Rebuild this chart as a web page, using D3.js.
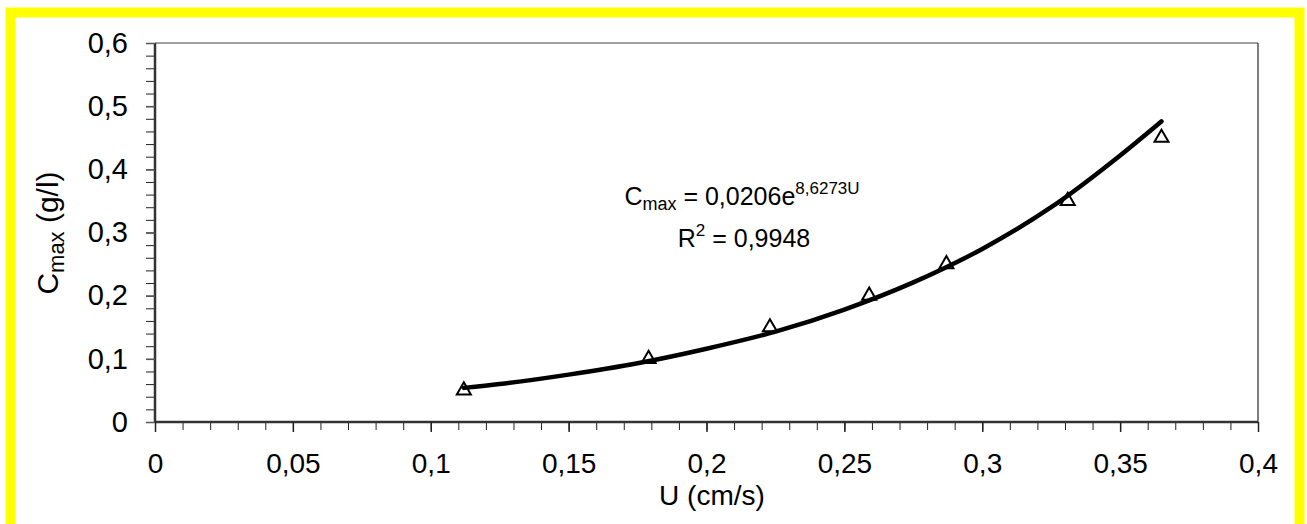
<!DOCTYPE html>
<html>
<head>
<meta charset="utf-8">
<script src="https://cdn.jsdelivr.net/npm/d3@7"></script>
<style>
  html, body { margin: 0; padding: 0; background: #fff; }
  svg { display: block; font-family: "Liberation Sans", Arial, sans-serif; }
</style>
</head>
<body>
<svg id="chart" width="1307" height="524"></svg>
<script>
// ---- data ----
const pointsU = [0.112, 0.179, 0.223, 0.259, 0.287, 0.331, 0.365];
const pointsC = [0.05, 0.10, 0.15, 0.20, 0.25, 0.35, 0.45];

// trend line values
const trendU = [0.112, 0.125, 0.15, 0.175, 0.2, 0.225, 0.25, 0.275, 0.3, 0.325, 0.35, 0.365];
const trendC = [0.054, 0.060, 0.075, 0.093, 0.116, 0.143, 0.178, 0.221, 0.274, 0.340, 0.422, 0.476];

const yTickValues = [0, 0.1, 0.2, 0.3, 0.4, 0.5, 0.6];
const yTickLabels = ["0", "0,1", "0,2", "0,3", "0,4", "0,5", "0,6"];
const xTickValues = [0, 0.05, 0.1, 0.15, 0.2, 0.25, 0.3, 0.35, 0.4];
const xTickLabels = ["0", "0,05", "0,1", "0,15", "0,2", "0,25", "0,3", "0,35", "0,4"];

const svg = d3.select("#chart");

// yellow frame
svg.append("rect")
  .attr("x", 10.5).attr("y", 12.5)
  .attr("width", 1289).attr("height", 540)
  .attr("fill", "#fff")
  .attr("stroke", "#ffff00").attr("stroke-width", 10);

const L = 155, R = 1258, T = 43, B = 422;
const x = d3.scaleLinear().domain([0, 0.4]).range([L, R]);
const y = d3.scaleLinear().domain([0, 0.6]).range([B, T]);

// plot frame: top (gray) and right (black)
svg.append("line").attr("x1", L).attr("x2", R).attr("y1", T).attr("y2", T)
  .attr("stroke", "#808080").attr("stroke-width", 1.5);
svg.append("line").attr("x1", R).attr("x2", R).attr("y1", T).attr("y2", B)
  .attr("stroke", "#000").attr("stroke-width", 1);

// minor ticks
const yMinor = d3.range(0, 0.6001, 0.02);
svg.append("g").attr("transform", `translate(${L},0)`)
  .call(d3.axisLeft(y).tickValues(yMinor).tickSize(9).tickFormat(""))
  .call(g => g.select(".domain").remove())
  .selectAll("line").attr("stroke", "#222");
const xMinor = d3.range(0, 0.4001, 0.01);
svg.append("g").attr("transform", `translate(0,${B})`)
  .call(d3.axisBottom(x).tickValues(xMinor).tickSize(8).tickFormat(""))
  .call(g => g.select(".domain").remove())
  .selectAll("line").attr("stroke", "#222");

// major axes
const yAxis = svg.append("g").attr("transform", `translate(${L},0)`)
  .call(d3.axisLeft(y).tickValues(yTickValues).tickSize(9).tickPadding(18)
    .tickFormat((d, i) => yTickLabels[i]));
yAxis.select(".domain").attr("stroke", "#333").attr("stroke-width", 2.5).attr("d", `M0,${T}V${B}`);
yAxis.selectAll("line").attr("stroke", "#555").attr("stroke-width", 1.5);
yAxis.selectAll("text").attr("font-size", 29).attr("fill", "#000")
  .attr("font-family", "Liberation Sans, Arial, sans-serif");

const xAxis = svg.append("g").attr("transform", `translate(0,${B})`)
  .call(d3.axisBottom(x).tickValues(xTickValues).tickSize(10).tickPadding(21)
    .tickFormat((d, i) => xTickLabels[i]));
xAxis.select(".domain").attr("stroke", "#333").attr("stroke-width", 2.5).attr("d", `M${L},0H${R}`);
xAxis.selectAll("line").attr("stroke", "#222").attr("stroke-width", 1.5);
xAxis.selectAll("text").attr("font-size", 28).attr("fill", "#000")
  .attr("font-family", "Liberation Sans, Arial, sans-serif");

// markers
svg.append("g").selectAll("path")
  .data(pointsU.map((u, i) => [u, pointsC[i]]))
  .join("path")
  .attr("transform", d => `translate(${x(d[0])},${y(d[1])})`)
  .attr("d", d3.symbol(d3.symbolTriangle, 85))
  .attr("fill", "#fff").attr("stroke", "#000").attr("stroke-width", 2);

// trend line
const line = d3.line().x(d => x(d[0])).y(d => y(d[1])).curve(d3.curveMonotoneX);
svg.append("path")
  .datum(trendU.map((u, i) => [u, trendC[i]]))
  .attr("d", line)
  .attr("fill", "none").attr("stroke", "#000").attr("stroke-width", 4.5)
  .attr("stroke-linecap", "round");

// equation
const eq = svg.append("text").attr("x", 742).attr("y", 205)
  .attr("text-anchor", "middle").attr("font-size", 25).attr("fill", "#000");
eq.append("tspan").text("C");
eq.append("tspan").attr("font-size", 18).attr("dy", 5).text("max");
eq.append("tspan").attr("dy", -5).text(" = 0,0206e");
eq.append("tspan").attr("font-size", 17).attr("dy", -11).text("8,6273U");

const r2 = svg.append("text").attr("x", 744).attr("y", 247)
  .attr("text-anchor", "middle").attr("font-size", 25).attr("fill", "#000");
r2.append("tspan").text("R");
r2.append("tspan").attr("font-size", 17).attr("dy", -11).text("2");
r2.append("tspan").attr("dy", 11).text(" = 0,9948");

// axis titles
svg.append("text").attr("x", 712).attr("y", 505)
  .attr("text-anchor", "middle").attr("font-size", 28).attr("fill", "#000")
  .text("U (cm/s)");

const yt = svg.append("text")
  .attr("transform", "translate(58,233) rotate(-90)")
  .attr("text-anchor", "middle").attr("font-size", 30).attr("fill", "#000");
yt.append("tspan").text("C");
yt.append("tspan").attr("font-size", 22).attr("dy", 6).text("max");
yt.append("tspan").attr("dy", -6).text(" (g/l)");
</script>
</body>
</html>
